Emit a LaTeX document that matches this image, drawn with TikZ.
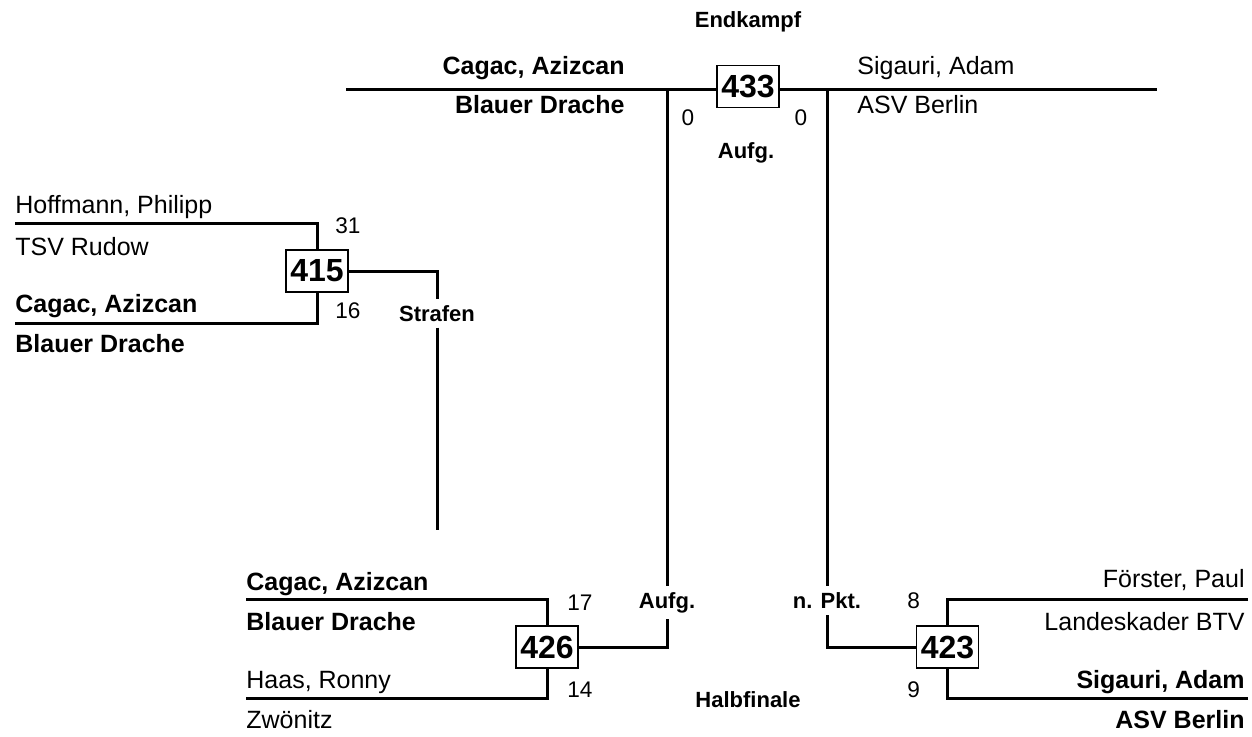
\documentclass[tikz,border=0pt]{standalone}
\usepackage{fontspec}
\setmainfont{Liberation Sans}
\begin{document}
\begin{tikzpicture}[x=0.5pt,y=-0.5pt,
  line/.style={line width=1.5pt},
  nm/.style={inner sep=0pt,font=\fontsize{12.5}{15}\selectfont},
  nmb/.style={inner sep=0pt,font=\fontsize{12.5}{15}\selectfont\bfseries},
  sc/.style={inner sep=0pt,font=\fontsize{11.3}{13}\selectfont},
  lbl/.style={inner xsep=1pt,inner ysep=3pt,font=\fontsize{11}{13}\selectfont\bfseries},
  bout/.style={draw,line width=0.65pt,fill=white,inner sep=0pt,minimum width=31pt,minimum height=21pt,font=\fontsize{16}{18}\selectfont\bfseries}]
\useasboundingbox (0,0) rectangle (1252,736);

% ---- Endkampf 433 ----
\node[bout] (b433) at (748,86.5) {433};
\coordinate (tl) at (346,89);
\coordinate (tr) at (1157,89);
\coordinate (vl) at (667,89);
\coordinate (vr) at (827,89);
\draw[line] (tl) -- (tl -| b433.west);
\draw[line] (tr -| b433.east) -- (tr);
\node[lbl,anchor=base] (lend) at (748,27) {Endkampf};
\node[nmb,anchor=base east] (f1n) at (625,74) {Cagac, Azizcan};
\node[nmb,anchor=base east] (f1c) at (625,113) {Blauer Drache};
\node[nm,anchor=base west] (f2n) at (857,74) {Sigauri, Adam};
\node[nm,anchor=base west] (f2c) at (857,113) {ASV Berlin};
\node[sc,anchor=base] (s0l) at (688,125) {0};
\node[sc,anchor=base] (s0r) at (801,125) {0};
\node[lbl,anchor=base] (lres433) at (746,158) {Aufg.};

% ---- 415 ----
\node[bout] (b415) at (317,271) {415};
\coordinate (a1) at (15,223);
\coordinate (a2) at (15,323);
\draw[line] (a1) -| (b415.north);
\draw[line] (a2) -| (b415.south);
\node[nm,anchor=base west] (p1n) at (15,213) {Hoffmann, Philipp};
\node[nm,anchor=base west] (p1c) at (15,255) {TSV Rudow};
\node[nmb,anchor=base west] (p2n) at (15,312) {Cagac, Azizcan};
\node[nmb,anchor=base west] (p2c) at (15,352) {Blauer Drache};
\node[sc,anchor=base west] (s31) at (335,233) {31};
\node[sc,anchor=base west] (s16) at (335,318) {16};
\node[lbl,anchor=base] (lstraf) at (437,321) {Strafen};
\coordinate (send) at (437,530);
\draw[line] (b415.east) -| (lstraf.north);
\draw[line] (lstraf.south) -- (send);

% ---- 426 ----
\node[bout] (b426) at (547,647) {426};
\coordinate (c1) at (246,599);
\coordinate (c2) at (246,698);
\draw[line] (c1) -| (b426.north);
\draw[line] (c2) -| (b426.south);
\node[nmb,anchor=base west] (q1n) at (246,590) {Cagac, Azizcan};
\node[nmb,anchor=base west] (q1c) at (246,630) {Blauer Drache};
\node[nm,anchor=base west] (q2n) at (246,688) {Haas, Ronny};
\node[nm,anchor=base west] (q2c) at (246,728) {Zwönitz};
\node[sc,anchor=base west] (s17) at (567,610) {17};
\node[sc,anchor=base west] (s14) at (567,697) {14};
\node[lbl,anchor=base] (laufg) at (667,608) {Aufg.};
\draw[line] (b426.east) -| (laufg.south);
\draw[line] (laufg.north) -- (vl);

% ---- 423 ----
\node[bout] (b423) at (947.5,647) {423};
\coordinate (d1) at (1248,599);
\coordinate (d2) at (1248,698);
\draw[line] (d1) -| (b423.north);
\draw[line] (d2) -| (b423.south);
\node[nm,anchor=base east] (r1n) at (1245,587) {Förster, Paul};
\node[nm,anchor=base east] (r1c) at (1245,630) {Landeskader BTV};
\node[nmb,anchor=base east] (r2n) at (1245,688) {Sigauri, Adam};
\node[nmb,anchor=base east] (r2c) at (1245,728) {ASV Berlin};
\node[sc,anchor=base west] (s8) at (907,608) {8};
\node[sc,anchor=base west] (s9) at (907,697) {9};
\node[lbl,anchor=base] (lpkt) at (827,608) {n. Pkt.};
\draw[line] (b423.west) -| (lpkt.south);
\draw[line] (lpkt.north) -- (vr);

\node[lbl,anchor=base] (lhalb) at (748,707) {Halbfinale};
\end{tikzpicture}
\end{document}
